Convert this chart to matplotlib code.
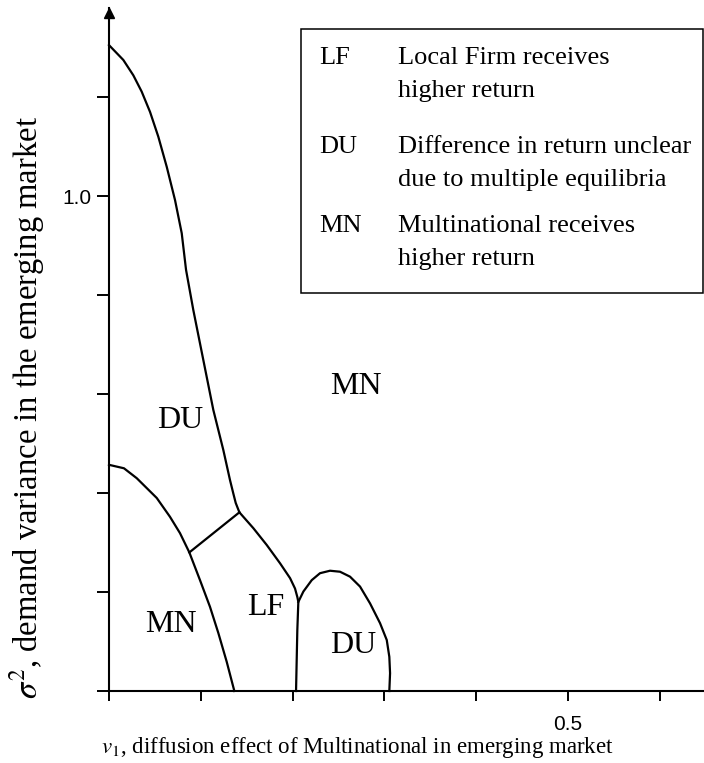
import matplotlib
matplotlib.use("Agg")
import matplotlib.pyplot as plt
from matplotlib.patches import Rectangle

plt.rcParams['mathtext.fontset'] = 'stix'

# boundary curves (v1, sigma^2)
upper_x = [0, 0.0156, 0.0265, 0.0356, 0.0447, 0.0537, 0.0629, 0.0719, 0.0792, 0.0839,
           0.0918, 0.1027, 0.1136, 0.1245, 0.1318, 0.1354, 0.138, 0.142]
upper_y = [1.305, 1.275, 1.244, 1.211, 1.170, 1.120, 1.059, 0.992, 0.925, 0.851,
           0.770, 0.669, 0.568, 0.487, 0.426, 0.399, 0.380, 0.361]

lower_x = [0, 0.0163, 0.0302, 0.052, 0.0664, 0.0773, 0.0875, 0.0991, 0.110, 0.1191, 0.1282, 0.1365]
lower_y = [0.457, 0.450, 0.430, 0.390, 0.352, 0.319, 0.280, 0.224, 0.170, 0.117, 0.059, 0]

link_x = [0.0875, 0.142]
link_y = [0.280, 0.361]

lf_x = [0.142, 0.1572, 0.1718, 0.1863, 0.1972, 0.2026, 0.2051, 0.2062, 0.2051, 0.2037]
lf_y = [0.361, 0.329, 0.295, 0.258, 0.228, 0.207, 0.190, 0.180, 0.123, 0]

bump_x = [0.2062, 0.2117, 0.2208, 0.2298, 0.2407, 0.2516, 0.2625, 0.2734, 0.2843,
          0.2952, 0.3025, 0.3053, 0.3061, 0.3053]
bump_y = [0.180, 0.201, 0.224, 0.238, 0.243, 0.241, 0.231, 0.211, 0.177,
          0.137, 0.103, 0.069, 0.036, 0]

# region labels
region_text = ["DU", "MN", "MN", "LF", "DU"]
region_x = [0.077, 0.269, 0.0675, 0.171, 0.266]
region_y = [0.547, 0.616, 0.135, 0.168, 0.091]

# legend entries
legend_keys = ["LF", "DU", "MN"]
legend_desc = ["Local Firm receives\nhigher return",
               "Difference in return unclear\ndue to multiple equilibria",
               "Multinational receives\nhigher return"]

x_ticks = [0, 0.1, 0.2, 0.3, 0.4, 0.5, 0.6]
x_ticklabels = ["", "", "", "", "", "0.5", ""]
y_ticks = [0, 0.2, 0.4, 0.6, 0.8, 1.0, 1.2]
y_ticklabels = ["", "", "", "", "", "1.0", ""]

W, H = 704, 763
fig = plt.figure(figsize=(W / 100, H / 100), dpi=100)
ax = fig.add_axes([109 / W, 72 / H, 595 / W, 683 / H])
ax.set_xlim(0, 0.648)
ax.set_ylim(0, 1.38)

for xs, ys in [(upper_x, upper_y), (lower_x, lower_y), (link_x, link_y),
               (lf_x, lf_y), (bump_x, bump_y)]:
    ax.plot(xs, ys, color='black', lw=1.6, clip_on=False, solid_joinstyle='round')

for t, x, y in zip(region_text, region_x, region_y):
    ax.text(x, y, t, ha='center', va='center', fontsize=23, family='Liberation Serif')

ax.spines['top'].set_visible(False)
ax.spines['right'].set_visible(False)
ax.spines['left'].set_linewidth(1.5)
ax.spines['bottom'].set_linewidth(1.5)

ax.set_xticks(x_ticks)
ax.set_xticklabels(x_ticklabels, family='Liberation Sans', fontsize=15)
ax.set_yticks(y_ticks)
ax.set_yticklabels(y_ticklabels, family='Liberation Sans', fontsize=15)
ax.tick_params(axis='x', direction='out', length=7, width=1.4, pad=10)
ax.tick_params(axis='y', direction='out', length=9, width=1.4, pad=3.5)

# arrow head on y axis
ax.plot([0], [1.37], marker='^', ms=7, color='black', clip_on=False)

ax.set_xlabel("$v_1$, diffusion effect of Multinational in emerging market",
              family='Liberation Serif', fontsize=16.5)
ax.xaxis.set_label_coords(0.417, -0.064)
ax.set_ylabel("$\\sigma^2$, demand variance in the emerging market",
              family='Liberation Serif', fontsize=23.5)
ax.yaxis.set_label_coords(-0.104, 0.415)

# legend box
fig.add_artist(Rectangle((301 / W, 1 - 293 / H), 402 / W, 264 / H,
                         transform=fig.transFigure, fill=False, lw=1.1, ec='black'))
key_base = [64, 153, 232]
for k, d, b in zip(legend_keys, legend_desc, key_base):
    fig.text(319 / W, 1 - b / H, k, family='Liberation Serif', fontsize=19, va='baseline')
    lines = d.split("\n")
    fig.text(398 / W, 1 - b / H, lines[0], family='Liberation Serif', fontsize=19, va='baseline')
    fig.text(398 / W, 1 - (b + 33) / H, lines[1], family='Liberation Serif', fontsize=19, va='baseline')

fig.savefig("out.png", dpi=100)
